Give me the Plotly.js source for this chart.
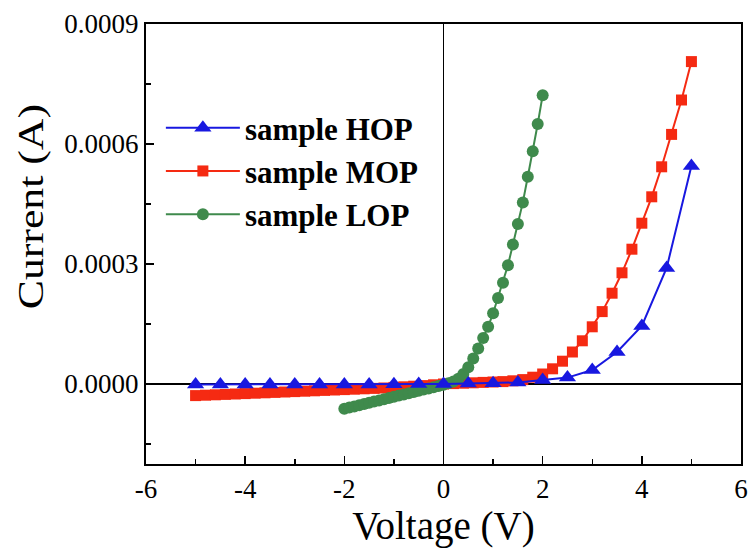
<!DOCTYPE html>
<html>
<head>
<meta charset="utf-8">
<script src="https://cdn.plot.ly/plotly-3.0.1.min.js"></script>
<style>html,body{margin:0;padding:0;background:#fff;}#chart{width:749px;height:551px;}</style>
</head>
<body>
<div id="chart"></div>
<script>
// HOP (blue triangles), step 0.5 V
const hopV = [-5,-4.5,-4,-3.5,-3,-2.5,-2,-1.5,-1,-0.5,0,0.5,1,1.5,2,2.5,3,3.5,4,4.5,5];
const hopI = [-1e-6,-1e-6,-1e-6,-1e-6,-1e-6,-1e-6,-1e-6,-1e-6,-0.5e-6,0,0,1e-6,2e-6,4e-6,1e-5,1.6e-5,3.5e-5,8e-5,1.45e-4,2.9e-4,5.45e-4];

// MOP (red squares), step 0.2 V
const mopV = [-5,-4.8,-4.6,-4.4,-4.2,-4,-3.8,-3.6,-3.4,-3.2,-3,-2.8,-2.6,-2.4,-2.2,-2,-1.8,-1.6,-1.4,-1.2,-1,-0.8,-0.6,-0.4,-0.2,0,0.2,0.4,0.6,0.8,1,1.2,1.4,1.6,1.8,2,2.2,2.4,2.6,2.8,3,3.2,3.4,3.6,3.8,4,4.2,4.4,4.6,4.8,5];
const mopI = [-2.9e-5,-2.8e-5,-2.7e-5,-2.6e-5,-2.5e-5,-2.4e-5,-2.3e-5,-2.2e-5,-2.1e-5,-2.0e-5,-1.9e-5,-1.8e-5,-1.7e-5,-1.6e-5,-1.5e-5,-1.4e-5,-1.3e-5,-1.2e-5,-1.1e-5,-1.0e-5,-8.5e-6,-7e-6,-5.5e-6,-4e-6,-2e-6,0,1e-6,2e-6,3e-6,4e-6,5e-6,6e-6,8e-6,1.1e-5,1.7e-5,2.5e-5,3.8e-5,5.7e-5,8.0e-5,1.08e-4,1.43e-4,1.81e-4,2.27e-4,2.78e-4,3.37e-4,4.02e-4,4.68e-4,5.43e-4,6.24e-4,7.10e-4,8.06e-4];

// LOP (green circles), step 0.1 V
const lopV = [-2,-1.9,-1.8,-1.7,-1.6,-1.5,-1.4,-1.3,-1.2,-1.1,-1,-0.9,-0.8,-0.7,-0.6,-0.5,-0.4,-0.3,-0.2,-0.1,0,0.1,0.2,0.3,0.4,0.5,0.6,0.7,0.8,0.9,1,1.1,1.2,1.3,1.4,1.5,1.6,1.7,1.8,1.9,2];
const lopI = [-6.2e-5,-5.9e-5,-5.6e-5,-5.3e-5,-5.0e-5,-4.7e-5,-4.4e-5,-4.1e-5,-3.8e-5,-3.5e-5,-3.2e-5,-2.9e-5,-2.6e-5,-2.3e-5,-2.0e-5,-1.7e-5,-1.4e-5,-1.1e-5,-8e-6,-5e-6,-2e-6,2e-6,6e-6,1.3e-5,2.5e-5,4.2e-5,6.4e-5,8.9e-5,1.15e-4,1.43e-4,1.77e-4,2.15e-4,2.53e-4,2.97e-4,3.49e-4,4.0e-4,4.54e-4,5.18e-4,5.82e-4,6.5e-4,7.22e-4];

const xTickVals = [-6,-4,-2,0,2,4,6];
const xTickText = ['-6','-4','-2','0','2','4','6'];
const yTickVals = [0,0.0003,0.0006,0.0009];
const yTickText = ['0.0000','0.0003','0.0006','0.0009'];

const serif = 'Liberation Serif, Times New Roman, serif';

const traces = [
  {x: mopV, y: mopI, name: 'sample MOP', type: 'scatter', mode: 'lines+markers', legendrank: 2, legendgroup: 'm',
   line: {color: '#f52a12', width: 2}, marker: {symbol: 'square', size: 11, color: '#f52a12'}},
  {x: lopV, y: lopI, name: 'sample LOP', type: 'scatter', mode: 'lines+markers', legendrank: 3, legendgroup: 'l',
   line: {color: '#3f8a4c', width: 2}, marker: {symbol: 'circle', size: 12, color: '#3f8a4c'}},
  {x: hopV, y: hopI, name: 'sample HOP', type: 'scatter', mode: 'lines+markers', legendrank: 1, legendgroup: 'h',
   line: {color: '#1818e0', width: 2}, marker: {symbol: 'triangle-up', size: 15, color: '#1818e0'}}
];

const layout = {
  width: 749, height: 551,
  margin: {l: 146, r: 8, t: 24, b: 87},
  paper_bgcolor: '#fff', plot_bgcolor: '#fff',
  font: {family: serif, color: '#000'},
  showlegend: true,
  legend: {x: 0.025, y: 0.825, xanchor: 'left', yanchor: 'top', bgcolor: 'rgba(0,0,0,0)',
           font: {family: serif, size: 31, weight: 'bold', color: '#000'}, itemwidth: 74, tracegroupgap: 0},
  xaxis: {
    range: [-6, 6], tickmode: 'array', tickvals: xTickVals, ticktext: xTickText,
    ticks: 'inside', ticklen: 8, tickwidth: 1.5, tickcolor: '#000',
    minor: {dtick: 1, tick0: 0, ticks: 'inside', ticklen: 5, tickwidth: 1.5, tickcolor: '#000'},
    showline: true, linecolor: '#000', linewidth: 2, mirror: true,
    showgrid: false, zeroline: true, zerolinecolor: '#000', zerolinewidth: 1.5,
    tickfont: {family: serif, size: 27, color: '#000'},
    title: {text: 'Voltage (V)', font: {family: serif, size: 39, color: '#000'}, standoff: 8}
  },
  yaxis: {
    range: [-0.0002, 0.0009], tickmode: 'array', tickvals: yTickVals, ticktext: yTickText,
    ticks: 'inside', ticklen: 8, tickwidth: 1.5, tickcolor: '#000',
    minor: {dtick: 0.00015, tick0: 0, ticks: 'inside', ticklen: 5, tickwidth: 1.5, tickcolor: '#000'},
    showline: true, linecolor: '#000', linewidth: 2, mirror: true,
    showgrid: false, zeroline: true, zerolinecolor: '#000', zerolinewidth: 1.5,
    tickfont: {family: serif, size: 27, color: '#000'},
    title: {text: ''}
  },
  annotations: [{
    text: 'Current (A)', xref: 'paper', yref: 'paper', x: -0.193, y: 0.585,
    xanchor: 'center', yanchor: 'middle', textangle: -90, showarrow: false,
    font: {family: serif, size: 35, color: '#000'}
  }]
};

Plotly.newPlot('chart', traces, layout, {displayModeBar: false, staticPlot: true}).then(function () {
  var t = document.querySelector('.annotation-text');
  if (t && t.getBBox) {
    var bb = t.getBBox();
    var cx = bb.x + bb.width / 2, cy = bb.y + bb.height / 2;
    t.setAttribute('transform', 'translate(' + cx + ',' + cy + ') scale(1.25,1) translate(' + (-cx) + ',' + (-cy) + ')');
  }
});
</script>
</body>
</html>
